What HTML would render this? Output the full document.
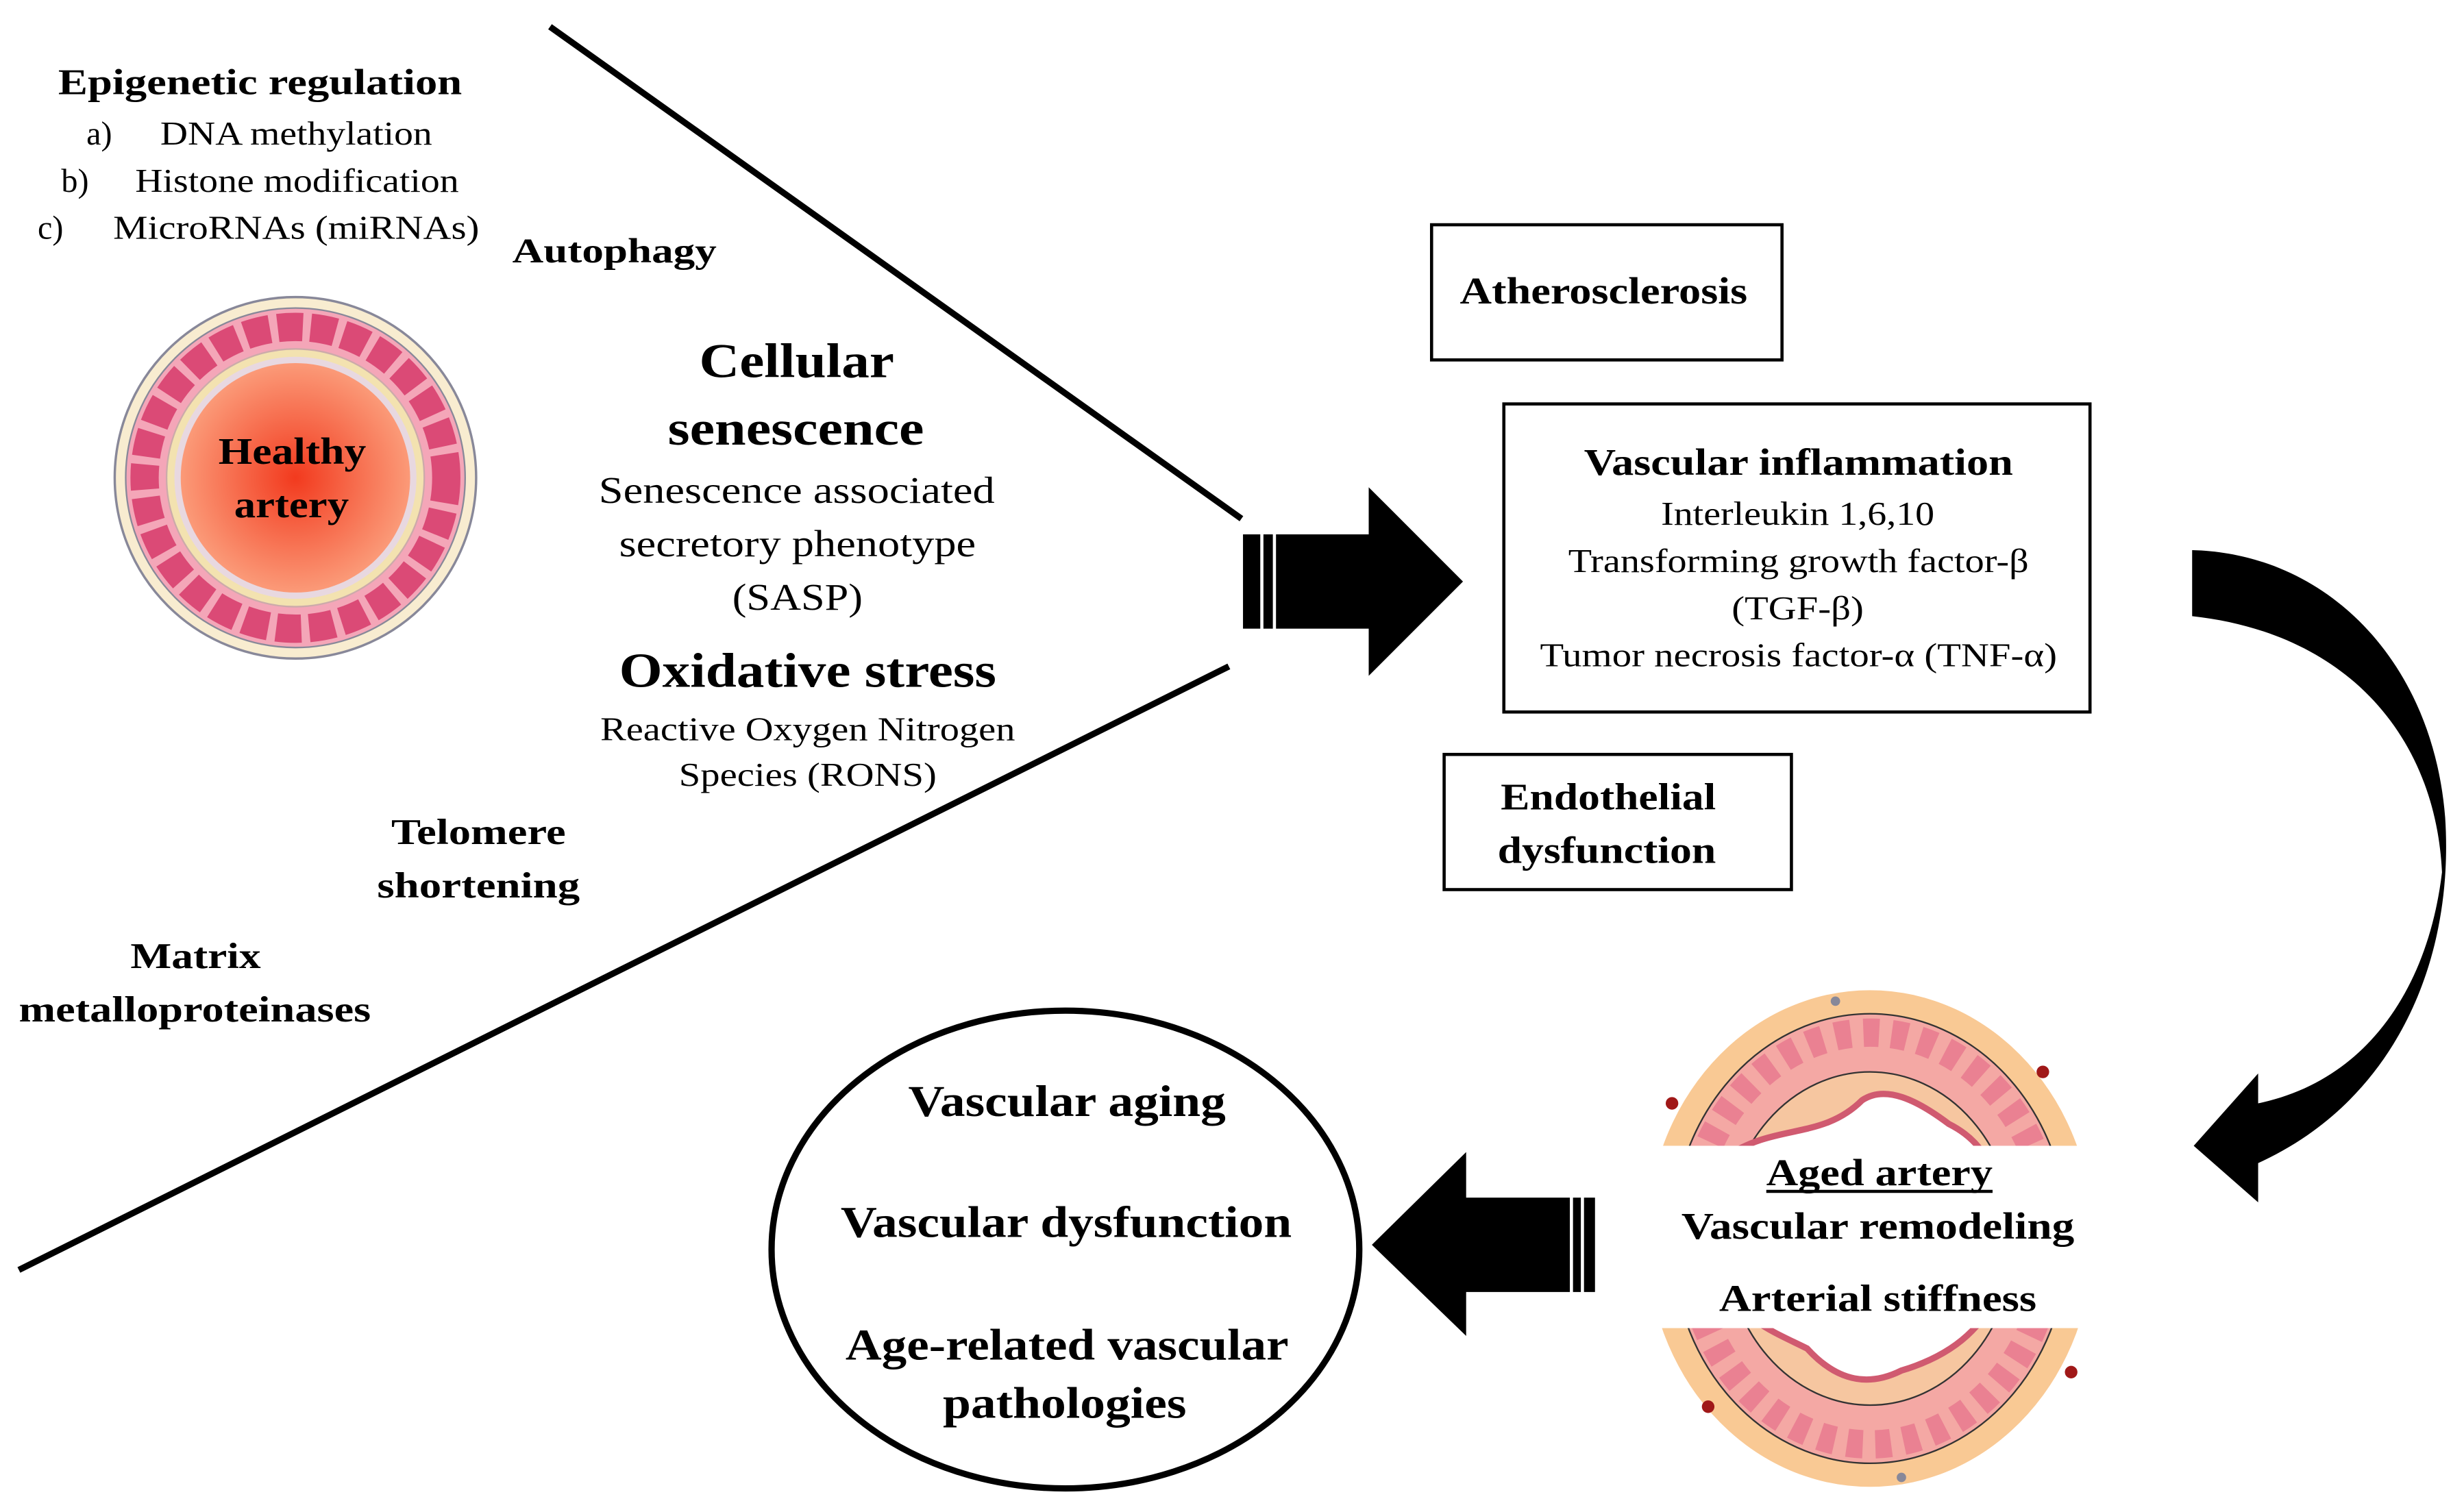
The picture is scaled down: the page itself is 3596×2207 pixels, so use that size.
<!DOCTYPE html>
<html><head><meta charset="utf-8"><style>
html,body{margin:0;padding:0;background:#fff;}
svg{display:block;}
text{font-family:"Liberation Serif","Times New Roman","DejaVu Serif",serif;fill:#000;}
.b{font-weight:bold;}
</style></head><body>
<svg width="3596" height="2207" viewBox="0 0 1568 962" preserveAspectRatio="none" xmlns="http://www.w3.org/2000/svg" font-family="Liberation Serif, serif">
<defs>
<radialGradient id="lum" cx="50%" cy="50%" r="50%">
<stop offset="0" stop-color="#f23a1e"/><stop offset="1" stop-color="#fb9a78"/>
</radialGradient>
</defs>
<rect width="1568" height="962" fill="#fff"/>
<line x1="350" y1="17" x2="790" y2="330" stroke="#000" stroke-width="4"/>
<line x1="12" y1="808" x2="782" y2="424" stroke="#000" stroke-width="4"/>

<circle cx="188" cy="304" r="115" fill="#f8ecd0" stroke="#889" stroke-width="1.5"/>
<circle cx="188" cy="304" r="108" fill="#f4a6b8" stroke="#889" stroke-width="1"/>
<circle cx="188" cy="304" r="96" fill="none" stroke="#d63a6a" stroke-width="18" stroke-dasharray="16 5" opacity="0.85"/>
<circle cx="188" cy="304" r="82" fill="#f3e2b0" stroke="#caa" stroke-width="1"/>
<circle cx="188" cy="304" r="77" fill="#e8d8e0"/>
<circle cx="188" cy="304" r="73" fill="url(#lum)"/>
<text x="139" y="295" font-size="24" class="b" textLength="94" lengthAdjust="spacingAndGlyphs">Healthy</text>
<text x="149" y="329" font-size="24" class="b" textLength="73" lengthAdjust="spacingAndGlyphs">artery</text>

<text x="37" y="60" font-size="23" class="b" textLength="257" lengthAdjust="spacingAndGlyphs">Epigenetic regulation</text>
<text x="55" y="92" font-size="21">a)</text><text x="102" y="92" font-size="21" textLength="173" lengthAdjust="spacingAndGlyphs">DNA methylation</text>
<text x="39" y="122" font-size="21">b)</text><text x="86" y="122" font-size="21" textLength="206" lengthAdjust="spacingAndGlyphs">Histone modification</text>
<text x="24" y="152" font-size="21">c)</text><text x="72" y="152" font-size="21" textLength="233" lengthAdjust="spacingAndGlyphs">MicroRNAs (miRNAs)</text>
<text x="326" y="167" font-size="22" class="b" textLength="130" lengthAdjust="spacingAndGlyphs">Autophagy</text>
<text x="445" y="240" font-size="31" class="b" textLength="124" lengthAdjust="spacingAndGlyphs">Cellular</text>
<text x="425" y="283" font-size="31" class="b" textLength="163" lengthAdjust="spacingAndGlyphs">senescence</text>
<text x="381" y="320" font-size="24" textLength="252" lengthAdjust="spacingAndGlyphs">Senescence associated</text>
<text x="394" y="354" font-size="24" textLength="227" lengthAdjust="spacingAndGlyphs">secretory phenotype</text>
<text x="466" y="388" font-size="24" textLength="83" lengthAdjust="spacingAndGlyphs">(SASP)</text>
<text x="394" y="437" font-size="31" class="b" textLength="240" lengthAdjust="spacingAndGlyphs">Oxidative stress</text>
<text x="382" y="471" font-size="21" textLength="264" lengthAdjust="spacingAndGlyphs">Reactive Oxygen Nitrogen</text>
<text x="432" y="500" font-size="21" textLength="164" lengthAdjust="spacingAndGlyphs">Species (RONS)</text>
<text x="249" y="537" font-size="23" class="b" textLength="111" lengthAdjust="spacingAndGlyphs">Telomere</text>
<text x="240" y="571" font-size="23" class="b" textLength="129" lengthAdjust="spacingAndGlyphs">shortening</text>
<text x="83" y="616" font-size="23" class="b" textLength="83" lengthAdjust="spacingAndGlyphs">Matrix</text>
<text x="12" y="650" font-size="23" class="b" textLength="224" lengthAdjust="spacingAndGlyphs">metalloproteinases</text>

<path d="M791,340 L871,340 L871,310 L931,370 L871,430 L871,400 L791,400 Z" fill="#000"/>
<line x1="803" y1="338" x2="803" y2="402" stroke="#fff" stroke-width="2"/>
<line x1="811" y1="338" x2="811" y2="402" stroke="#fff" stroke-width="2"/>

<rect x="911" y="143" width="223" height="86" fill="none" stroke="#000" stroke-width="2"/>
<text x="929" y="193" font-size="24" class="b" textLength="183" lengthAdjust="spacingAndGlyphs">Atherosclerosis</text>
<rect x="957" y="257" width="373" height="196" fill="none" stroke="#000" stroke-width="2"/>
<text x="1008" y="302" font-size="24" class="b" textLength="273" lengthAdjust="spacingAndGlyphs">Vascular inflammation</text>
<text x="1057" y="334" font-size="21" textLength="174" lengthAdjust="spacingAndGlyphs">Interleukin 1,6,10</text>
<text x="998" y="364" font-size="21" textLength="293" lengthAdjust="spacingAndGlyphs">Transforming growth factor-β</text>
<text x="1102" y="394" font-size="21" textLength="84" lengthAdjust="spacingAndGlyphs">(TGF-β)</text>
<text x="980" y="424" font-size="21" textLength="329" lengthAdjust="spacingAndGlyphs">Tumor necrosis factor-α (TNF-α)</text>
<rect x="919" y="480" width="221" height="86" fill="none" stroke="#000" stroke-width="2"/>
<text x="955" y="515" font-size="24" class="b" textLength="137" lengthAdjust="spacingAndGlyphs">Endothelial</text>
<text x="953" y="549" font-size="24" class="b" textLength="139" lengthAdjust="spacingAndGlyphs">dysfunction</text>

<path d="M1395,350 C1480,352 1548,420 1556,520 C1562,610 1525,700 1437,740 L1437,765 L1396,729 L1437,683 L1437,702 C1505,688 1545,630 1554,555 C1550,470 1495,403 1395,392 Z" fill="#000"/>

<g>
<ellipse cx="1190" cy="788" rx="142" ry="158" fill="#f9c994"/>
<ellipse cx="1190" cy="788" rx="126" ry="143" fill="#f4a8a4" stroke="#333" stroke-width="1"/>
<ellipse cx="1190" cy="788" rx="115" ry="131" fill="none" stroke="#e05a80" stroke-width="18" stroke-dasharray="10 8" opacity="0.5"/>
<ellipse cx="1190" cy="788" rx="92" ry="106" fill="#f6c6a0" stroke="#333" stroke-width="1"/>
<path d="M1100,735 C1130,715 1160,725 1185,700 C1200,690 1220,700 1240,715 C1260,725 1268,740 1272,760 L1275,820 C1262,840 1250,860 1210,872 C1190,882 1170,880 1150,858 C1130,848 1108,840 1102,820 Z" fill="#fff" stroke="#d05a70" stroke-width="4"/>
<circle cx="1168" cy="637" r="3" fill="#889"/><circle cx="1210" cy="940" r="3" fill="#889"/>
<circle cx="1064" cy="702" r="4" fill="#a01818"/><circle cx="1300" cy="682" r="4" fill="#a01818"/>
<circle cx="1087" cy="895" r="4" fill="#a01818"/><circle cx="1318" cy="873" r="4" fill="#a01818"/>
<rect x="1040" y="729" width="305" height="116" fill="#fff"/>
</g>
<text x="1124" y="754" font-size="24" class="b" textLength="144" lengthAdjust="spacingAndGlyphs">Aged artery</text>
<line x1="1124" y1="758" x2="1268" y2="758" stroke="#000" stroke-width="2"/>
<text x="1070" y="788" font-size="24" class="b" textLength="250" lengthAdjust="spacingAndGlyphs">Vascular remodeling</text>
<text x="1094" y="834" font-size="24" class="b" textLength="202" lengthAdjust="spacingAndGlyphs">Arterial stiffness</text>

<path d="M1015,762 L933,762 L933,733 L873,792 L933,850 L933,822 L1015,822 Z" fill="#000"/>
<line x1="1000" y1="760" x2="1000" y2="824" stroke="#fff" stroke-width="2"/>
<line x1="1007" y1="760" x2="1007" y2="824" stroke="#fff" stroke-width="2"/>

<ellipse cx="678" cy="795" rx="187" ry="152" fill="none" stroke="#000" stroke-width="4"/>
<text x="578" y="710" font-size="28" class="b" textLength="202" lengthAdjust="spacingAndGlyphs">Vascular aging</text>
<text x="535" y="787" font-size="28" class="b" textLength="287" lengthAdjust="spacingAndGlyphs">Vascular dysfunction</text>
<text x="538" y="865" font-size="28" class="b" textLength="282" lengthAdjust="spacingAndGlyphs">Age-related vascular</text>
<text x="600" y="902" font-size="28" class="b" textLength="155" lengthAdjust="spacingAndGlyphs">pathologies</text>
</svg>
</body></html>
